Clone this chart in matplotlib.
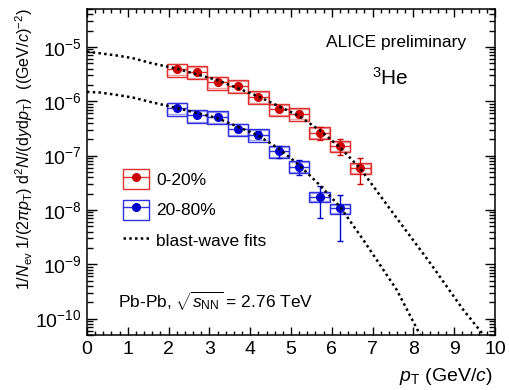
import matplotlib
matplotlib.use("Agg")
import matplotlib.pyplot as plt
from matplotlib.lines import Line2D
from matplotlib.patches import Rectangle
from matplotlib.ticker import LogLocator, MultipleLocator, NullFormatter
import numpy as np

plt.rcParams['font.family'] = ['Liberation Sans', 'DejaVu Sans']
plt.rcParams['mathtext.fontset'] = 'custom'
plt.rcParams['mathtext.rm'] = 'Liberation Sans'
plt.rcParams['mathtext.it'] = 'Liberation Sans:italic'
plt.rcParams['mathtext.bf'] = 'Liberation Sans:bold'

# datos
pt_central = [2.2, 2.7, 3.2, 3.7, 4.2, 4.7, 5.2, 5.7, 6.2, 6.7]
yield_central = [3.9e-6, 3.5e-6, 2.25e-6, 1.92e-6, 1.22e-6, 7.2e-7, 5.9e-7, 2.66e-7, 1.51e-7, 5.97e-8]
stat_central = [0.05, 0.05, 0.06, 0.06, 0.07, 0.08, 0.12, 0.26, 0.33, 0.5]
sys_central = [0.27, 0.27, 0.27, 0.27, 0.26, 0.25, 0.25, 0.24, 0.22, 0.22]

pt_periph = [2.2, 2.7, 3.2, 3.7, 4.2, 4.7, 5.2, 5.7, 6.2]
yield_periph = [7.46e-7, 5.5e-7, 5.2e-7, 3.07e-7, 2.44e-7, 1.21e-7, 6.3e-8, 1.75e-8, 1.07e-8]
stat_periph = [0.07, 0.08, 0.10, 0.12, 0.15, 0.24, 0.30, 0.60, 0.75]
sys_periph = [0.27, 0.27, 0.27, 0.26, 0.26, 0.25, 0.24, 0.2, 0.2]

# curvas blast-wave leidas punto a punto
fit_pt_central = [0.0, 0.2, 0.32, 0.77, 1.13, 1.59, 2.18, 3.18, 4.17, 5.19, 5.7, 6.18, 6.69,
                  7.59, 8.41, 9.22, 9.71, 10.0]
fit_central = [8.2e-6, 7.85e-6, 7.65e-6, 6.9e-6, 6.2e-6, 5.0e-6, 4.03e-6, 2.47e-6, 1.26e-6,
               5.4e-7, 2.95e-7, 1.47e-7, 5.9e-8, 7.1e-9, 1.06e-9, 1.46e-10, 5.1e-11, 2.6e-11]
fit_pt_periph = [0.0, 0.32, 0.77, 1.13, 1.59, 2.18, 3.18, 4.17, 4.7, 5.19, 5.7, 6.2, 6.77,
                 7.59, 8.16, 8.5]
fit_periph = [1.49e-6, 1.45e-6, 1.3e-6, 1.17e-6, 9.6e-7, 7.6e-7, 4.95e-7, 2.41e-7, 1.35e-7,
              6.8e-8, 2.9e-8, 1.15e-8, 2.83e-9, 3.4e-10, 5.1e-11, 2.0e-11]

bin_width = 0.5

rojo = '#cc0000'
rojo_caja = '#e03030'
azul = '#0000cc'
azul_caja = '#3030e0'

fig = plt.figure(figsize=(5.09, 3.90), dpi=100)
ax = fig.add_axes([87 / 509, 1 - 335 / 390, 408 / 509, 326 / 390])
ax.set_yscale('log')


def dibujar_serie(pt, y, stat, sys, color, color_caja):
    pt = np.array(pt)
    y = np.array(y)
    sys = np.array(sys)
    # cajas de error sistematico (dos contornos)
    ax.bar(pt, 2 * sys * y, bottom=y * (1 - sys), width=bin_width, fill=False,
           edgecolor=color_caja, linewidth=1.0, zorder=2)
    ax.bar(pt, 1.7 * sys * y, bottom=y * (1 - 0.85 * sys), width=bin_width * 0.96, fill=False,
           edgecolor=color_caja, linewidth=1.0, alpha=0.45, zorder=2)
    ax.errorbar(pt, y, xerr=bin_width / 2, fmt='none', ecolor=color_caja, elinewidth=1.0, zorder=3)
    ax.errorbar(pt, y, yerr=np.array(stat) * y, fmt='o', color=color, ms=5.5,
                elinewidth=1.0, capsize=2, capthick=1.0, zorder=4)


dibujar_serie(pt_central, yield_central, stat_central, sys_central, rojo, rojo_caja)
dibujar_serie(pt_periph, yield_periph, stat_periph, sys_periph, azul, azul_caja)

estilo_fit = (0, (1.0, 1.3))
ax.plot(fit_pt_central, fit_central, color='black', linestyle=estilo_fit, lw=1.8, zorder=5)
ax.plot(fit_pt_periph, fit_periph, color='black', linestyle=estilo_fit, lw=1.8, zorder=5)

ax.set_xlim(0, 10)
ax.set_ylim(5e-11, 5e-5)
ax.xaxis.set_major_locator(MultipleLocator(1))
ax.xaxis.set_minor_locator(MultipleLocator(0.2))
ax.yaxis.set_major_locator(LogLocator(base=10, numticks=20))
ax.yaxis.set_minor_locator(LogLocator(base=10, subs=np.arange(2, 10), numticks=20))
ax.yaxis.set_minor_formatter(NullFormatter())
ax.tick_params(which='both', direction='in', top=True, right=True, width=1.0)
ax.tick_params(axis='x', which='major', length=5.5, labelsize=14, pad=4)
ax.tick_params(axis='x', which='minor', length=3)
ax.tick_params(axis='y', which='major', length=7.5, labelsize=14, pad=4)
ax.tick_params(axis='y', which='minor', length=4)
for s in ax.spines.values():
    s.set_linewidth(1.1)

# leyenda
h_central = (Rectangle((0, 0), 1, 1, fill=False, edgecolor=rojo_caja, lw=1.0),
             Line2D([], [], color=rojo_caja, lw=1.0, marker='o', ms=5.5, mfc=rojo, mec=rojo))
h_periph = (Rectangle((0, 0), 1, 1, fill=False, edgecolor=azul_caja, lw=1.0),
            Line2D([], [], color=azul_caja, lw=1.0, marker='o', ms=5.5, mfc=azul, mec=azul))
h_fit = Line2D([], [], color='black', linestyle=estilo_fit, lw=1.8)
ax.legend([h_central, h_periph, h_fit], ['0-20%', '20-80%', 'blast-wave fits'],
          loc='upper left', bbox_to_anchor=(0.088, 0.51), frameon=False, fontsize=12.5,
          handlelength=1.5, handleheight=1.4, labelspacing=0.62, handletextpad=0.4,
          borderpad=0, borderaxespad=0)

ax.text(0.757, 0.884, 'ALICE preliminary', transform=ax.transAxes, ha='center',
        va='baseline', fontsize=12.5)
ax.text(0.743, 0.767, r'$^{3}$He', transform=ax.transAxes, ha='center',
        va='baseline', fontsize=15)
ax.text(0.076, 0.083, r'Pb-Pb, $\sqrt{s_{\mathrm{NN}}}$ = 2.76 TeV', transform=ax.transAxes,
        ha='left', va='baseline', fontsize=12.5)

fig.text(493 / 509, 1 - 381 / 390, r'$p_{\mathrm{T}}$ (GeV/$c$)', ha='right', va='baseline',
         fontsize=14)
fig.text(24 / 509, 1 - 8 / 390,
         r'$1/N_{\mathrm{ev}}\ 1/(2\pi p_{\mathrm{T}})\ \mathrm{d}^{2}N/(\mathrm{d}y\mathrm{d}p_{\mathrm{T}})\ \ ((\mathrm{GeV}/c)^{-2})$',
         rotation=90, ha='center', va='top', fontsize=11.6)

fig.savefig('out.png', dpi=100)
